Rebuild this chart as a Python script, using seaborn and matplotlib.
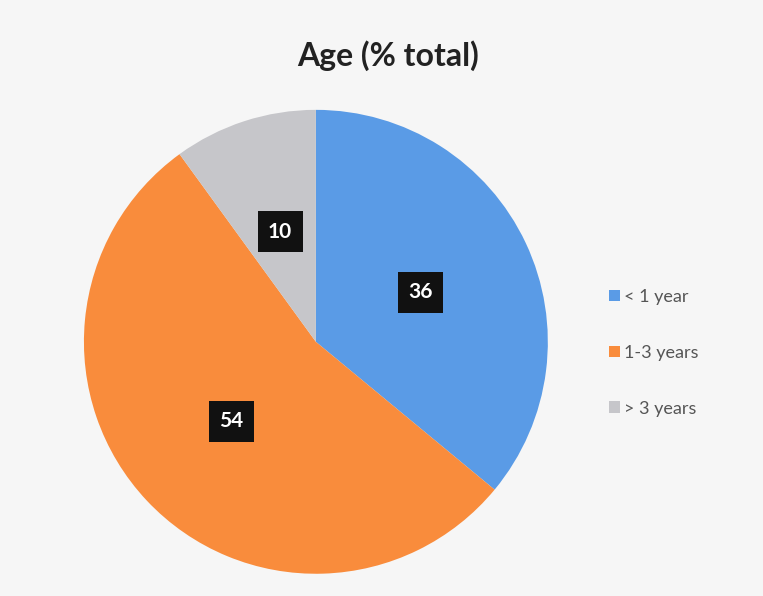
import matplotlib
matplotlib.use("Agg")
import matplotlib.pyplot as plt
import seaborn as sns

# Chart data
categories = ['< 1 year', '1-3 years', '> 3 years']
shares = [36, 54, 10]
colors = ['#5A9BE6', '#F98C3C', '#C6C6CA']

sns.set_theme(style='white')
plt.rcParams['font.family'] = ['Lato', 'DejaVu Sans']

fig = plt.figure(figsize=(7.63, 5.96), dpi=100, facecolor='#F6F6F6')
ax = fig.add_axes([0.110, 0.037, 0.608, 0.779])
ax.set_facecolor('none')

wedges, texts, autotexts = ax.pie(
    shares, colors=colors, startangle=90, counterclock=False,
    autopct=lambda p: f'{p:.0f}', pctdistance=0.5,
    wedgeprops=dict(linewidth=0),
    textprops=dict(color='white', fontsize=15, fontweight='bold'))
for t in autotexts:
    t.set_bbox(dict(boxstyle='square,pad=0.5', facecolor='#111111', edgecolor='none'))
ax.set_xlim(-1, 1)
ax.set_ylim(-1, 1)
ax.set_aspect('equal')

fig.text(0.508, 0.906, 'Age (% total)', ha='center', va='center',
         fontsize=23, fontweight='bold', color='#222222')

fig.legend(wedges, categories, loc='center left', bbox_to_anchor=(0.786, 0.408),
           frameon=False, fontsize=13, labelcolor='#555555',
           handlelength=0.6, handleheight=0.6, handletextpad=0.25,
           labelspacing=2.2, borderpad=0)

fig.savefig('out.png', dpi=100, facecolor=fig.get_facecolor())
